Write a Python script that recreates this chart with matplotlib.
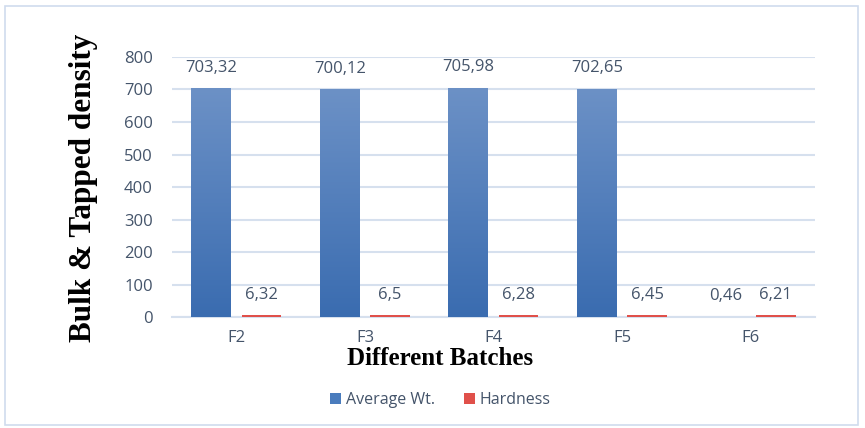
import matplotlib; matplotlib.use('Agg')
import matplotlib.pyplot as plt
import numpy as np
from matplotlib.patches import Rectangle
from matplotlib.colors import LinearSegmentedColormap

batches = ['F2', 'F3', 'F4', 'F5', 'F6']
avg_wt = [703.32, 700.12, 705.98, 702.65, 0.46]
hardness = [6.32, 6.5, 6.28, 6.45, 6.21]
avg_labels = ['703,32', '700,12', '705,98', '702,65', '0,46']
hard_labels = ['6,32', '6,5', '6,28', '6,45', '6,21']

txt_col = '#44546a'
blue = '#4a7cbd'
red = '#e0504a'
grid_col = '#d6e0ee'

fig = plt.figure(figsize=(8.65, 4.28), dpi=100)
ax = fig.add_axes([0.199, 0.259, 0.743, 0.608])

x = np.arange(len(batches))
w = 0.31
gap = 0.08
b1 = ax.bar(x - (w + gap) / 2, avg_wt, w, color=blue, label='Average Wt.', zorder=3)
b2 = ax.bar(x + (w + gap) / 2, hardness, w, color=red, label='Hardness', zorder=3)

# gradient on the blue bars
grad = np.linspace(0, 1, 256).reshape(-1, 1)
cmap = LinearSegmentedColormap.from_list('g', ['#3a6cb0', '#6c91c6'])
for bar in b1:
    bx, by = bar.get_x(), bar.get_y()
    bw, bh = bar.get_width(), bar.get_height()
    im = ax.imshow(grad, cmap=cmap, origin='lower', aspect='auto',
                   extent=[bx, bx + bw, by, by + bh], zorder=3)
    im.set_clip_path(bar)

for bars, labels in [(b1, avg_labels), (b2, hard_labels)]:
    for bar, lab in zip(bars, labels):
        ax.annotate(lab, (bar.get_x() + bar.get_width() / 2, bar.get_height()),
                    xytext=(0, 9), textcoords='offset points', ha='center', va='bottom',
                    fontsize=12, color=txt_col, family='Open Sans')

ax.set_xlim(-0.5, len(batches) - 0.5)
ax.set_ylim(0, 800)
ax.set_yticks(np.arange(0, 801, 100))
ax.set_xticks(x)
ax.set_xticklabels(batches)
ax.yaxis.grid(True, color=grid_col, linewidth=1.5, zorder=0)
ax.set_axisbelow(True)
for s in ['top', 'right', 'left']:
    ax.spines[s].set_visible(False)
ax.spines['bottom'].set_color(grid_col)
ax.spines['bottom'].set_linewidth(1.5)
ax.tick_params(axis='both', length=0, labelsize=12, labelcolor=txt_col)
ax.tick_params(axis='y', pad=14)
ax.tick_params(axis='x', pad=9)
for t in ax.get_xticklabels() + ax.get_yticklabels():
    t.set_family('Open Sans')

fig.text(0.097, 0.56, 'Bulk & Tapped density', rotation=90, ha='center', va='center',
         fontsize=22.5, fontweight='bold', family='Liberation Serif', color='black')
fig.text(0.509, 0.163, 'Different Batches', ha='center', va='center',
         fontsize=18, fontweight='bold', family='Liberation Serif', color='black')

leg = fig.legend(loc='center', bbox_to_anchor=(0.509, 0.065), ncol=2, frameon=False,
                 prop={'family': 'Open Sans', 'size': 11.5}, handlelength=0.7,
                 handleheight=0.7, columnspacing=1.8, handletextpad=0.3)
for t in leg.get_texts():
    t.set_color(txt_col)

fig.add_artist(Rectangle((0.006, 0.006), 0.986, 0.98, transform=fig.transFigure,
                         fill=False, edgecolor='#d0dced', linewidth=1.2))

fig.savefig('out.png', dpi=100)
